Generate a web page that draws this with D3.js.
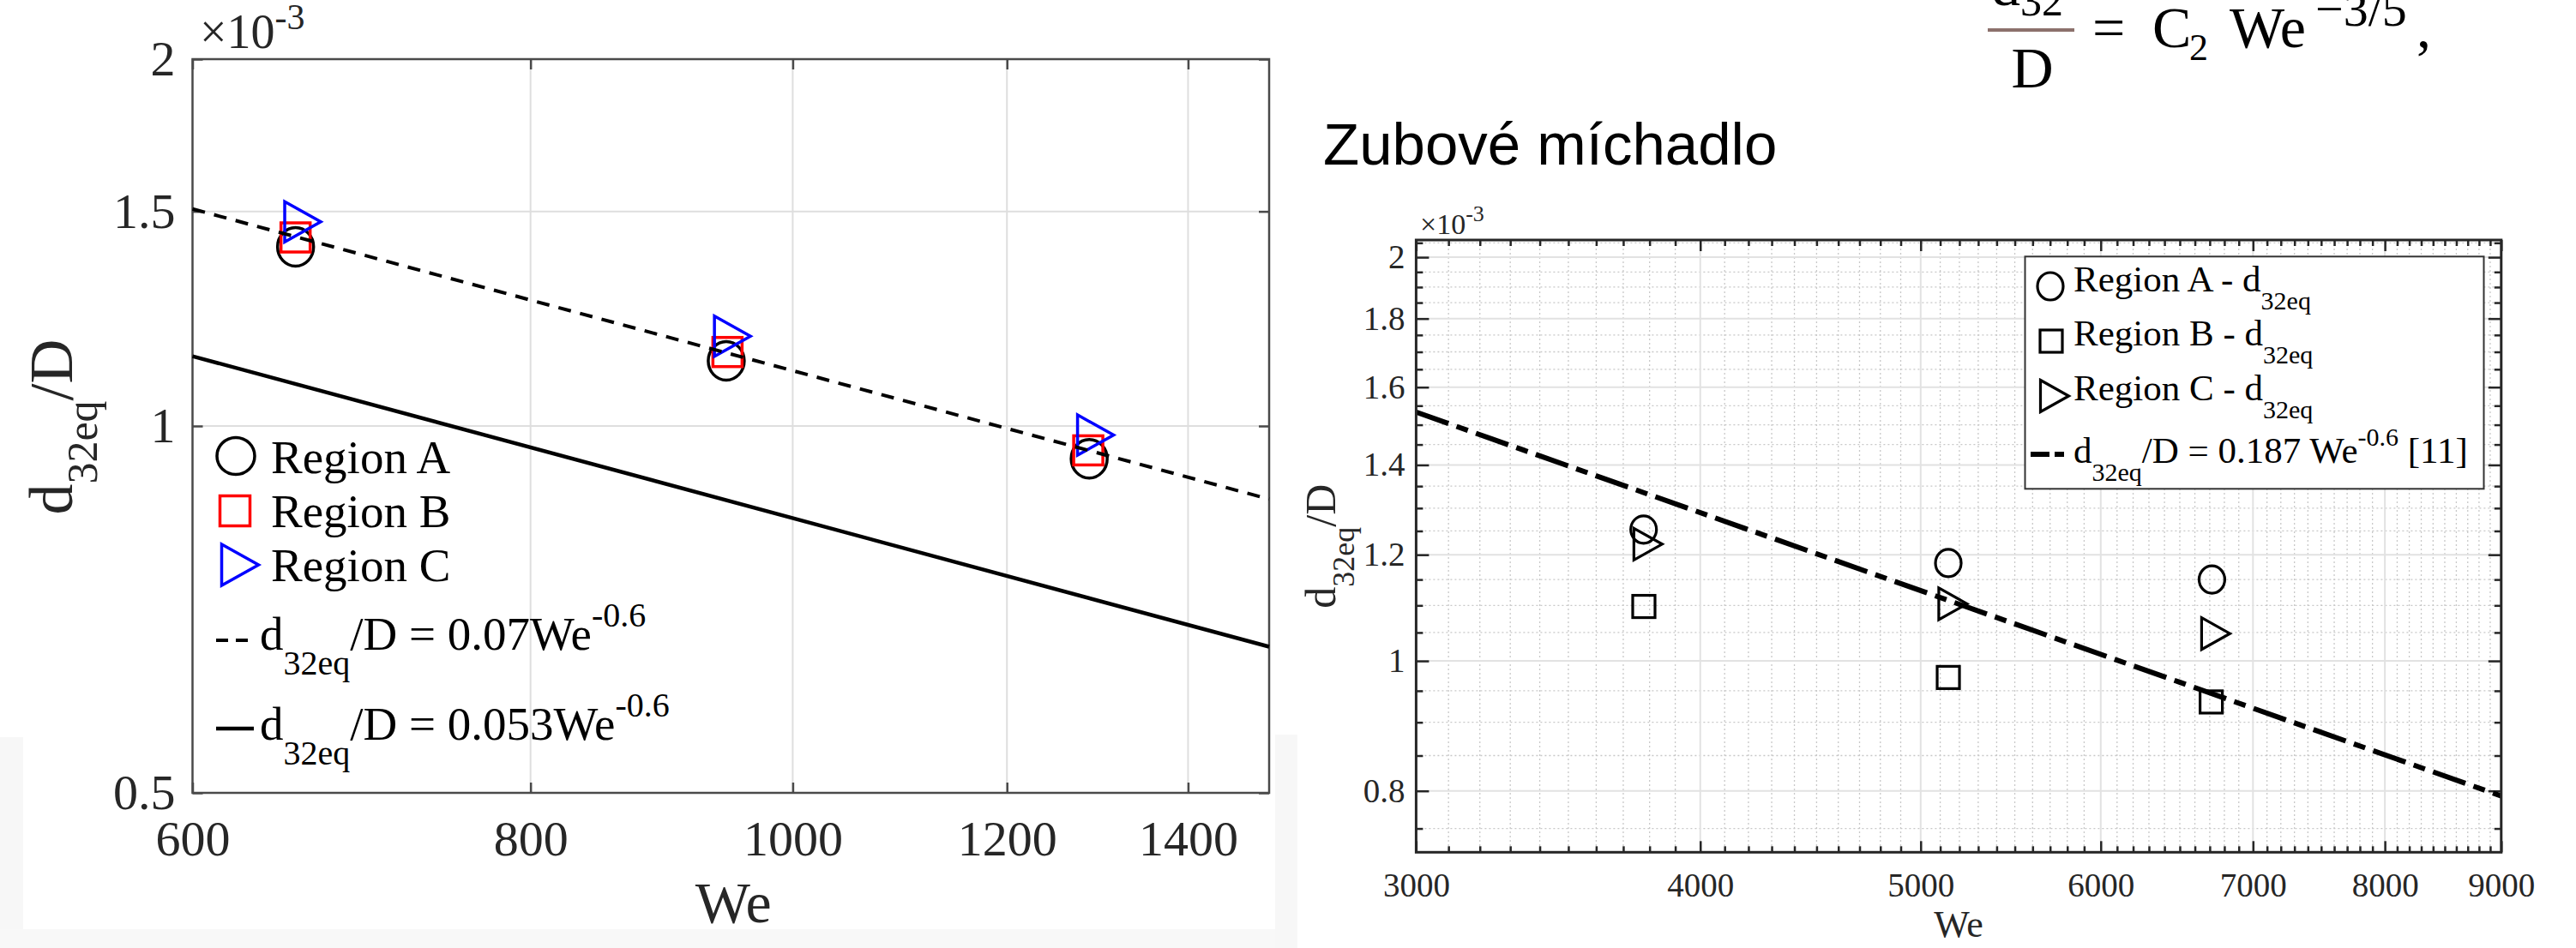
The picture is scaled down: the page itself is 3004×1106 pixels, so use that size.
<!DOCTYPE html>
<html><head><meta charset="utf-8">
<script src="https://cdn.jsdelivr.net/npm/d3@7"></script>
<style>body{margin:0;background:#fff}svg{display:block}</style>
</head><body><svg id="c" width="3004" height="1106"></svg>
<script>
// ---------------- LEFT CHART DATA ----------------
const leftXTicks = [600, 800, 1000, 1200, 1400];
const leftYTicks = [0.5, 1, 1.5, 2];
const leftWeA = [655, 945, 1287];
const leftA   = [1.403, 1.131, 0.940];
const leftWeB = [655, 946, 1286];
const leftB   = [1.428, 1.150, 0.955];
const leftWeC = [659, 950, 1294];
const leftC   = [1.471, 1.185, 0.983];
const leftFitWe     = [600, 1500];
const leftFitDashed = [1.507, 0.871];   // 0.07 We^-0.6  (x10^-3)
const leftFitSolid  = [1.141, 0.659];   // 0.053 We^-0.6 (x10^-3)
const leftLegend = ["Region A", "Region B", "Region C"];

// ---------------- RIGHT CHART DATA ----------------
const rightXTicks = [3000, 4000, 5000, 6000, 7000, 8000, 9000];
const rightYTicks = [0.8, 1, 1.2, 1.4, 1.6, 1.8, 2];
const rightWeA = [3777, 5142, 6715];
const rightA   = [1.253, 1.183, 1.150];
const rightWeB = [3778, 5142, 6710];
const rightB   = [1.098, 0.972, 0.932];
const rightWeC = [3794, 5166, 6741];
const rightC   = [1.222, 1.103, 1.048];
const rightRefWe = [3000, 9000];
const rightRef   = [1.533, 0.793];     // 0.187 We^-0.6 (x10^-3)
const rightLegend = ["Region A - d", "Region B - d", "Region C - d"];

const svg = d3.select("#c");
svg.append("rect").attr("width", 3004).attr("height", 1106).attr("fill", "#fff");
// faint grey edges of the pasted pictures
svg.append("rect").attr("x", 0).attr("y", 860).attr("width", 27).attr("height", 246).attr("fill", "#f7f7f7");
svg.append("rect").attr("x", 0).attr("y", 1084).attr("width", 1513).attr("height", 22).attr("fill", "#f8f8f8");
svg.append("rect").attr("x", 1487).attr("y", 857).attr("width", 26).attr("height", 249).attr("fill", "#f7f7f7");

const SERIF = "'Liberation Serif','Times New Roman',serif";
const SANS = "'Liberation Sans',Arial,sans-serif";
const INK = "#262626";

function triPath(w, h) {
  return `M${-w/2},${-h/2}L${w/2},0L${-w/2},${h/2}Z`;
}
function drawMarker(g, type, x, y, s, color, sw) {
  if (type === "o") {
    g.append("ellipse").attr("cx", x).attr("cy", y).attr("rx", s.rx).attr("ry", s.ry)
      .attr("fill", "none").attr("stroke", color).attr("stroke-width", sw);
  } else if (type === "s") {
    g.append("rect").attr("x", x - s.sq/2).attr("y", y - s.sq/2).attr("width", s.sq).attr("height", s.sq)
      .attr("fill", "none").attr("stroke", color).attr("stroke-width", sw);
  } else {
    g.append("path").attr("d", triPath(s.tw, s.th)).attr("transform", `translate(${x},${y})`)
      .attr("fill", "none").attr("stroke", color).attr("stroke-width", sw).attr("stroke-linejoin", "miter");
  }
}

// ================= LEFT CHART =================
const xL = d3.scaleLog().domain([600, 1500]).range([224.5, 1480]);
const yL = d3.scaleLog().domain([0.5, 2]).range([925, 69]);
const gL = svg.append("g");
const [lx0, lx1] = xL.range(), [ly1, ly0] = yL.range();

gL.selectAll(".lgx").data(leftXTicks.slice(1)).join("line")
  .attr("x1", d => xL(d)).attr("x2", d => xL(d)).attr("y1", ly0).attr("y2", ly1)
  .attr("stroke", "#dedede").attr("stroke-width", 2);
gL.selectAll(".lgy").data(leftYTicks.slice(1, -1)).join("line")
  .attr("y1", d => yL(d)).attr("y2", d => yL(d)).attr("x1", lx0).attr("x2", lx1)
  .attr("stroke", "#dedede").attr("stroke-width", 2);

function styleAxis(g, size) {
  g.select(".domain").remove();
  g.selectAll(".tick line").attr("stroke", "#4a4a4a").attr("stroke-width", 2.5);
  g.selectAll(".tick text").attr("font-family", SERIF).attr("font-size", size).attr("fill", INK);
}
gL.append("g").attr("transform", `translate(0,${ly1})`)
  .call(d3.axisBottom(xL).tickValues(leftXTicks).tickFormat(d => String(d)).tickSizeInner(-12).tickSizeOuter(0).tickPadding(32))
  .call(g => styleAxis(g, 58));
gL.append("g").attr("transform", `translate(0,${ly0})`)
  .call(d3.axisTop(xL).tickValues(leftXTicks).tickFormat("").tickSizeInner(-12).tickSizeOuter(0))
  .call(g => styleAxis(g, 58));
gL.append("g").attr("transform", `translate(${lx0},0)`)
  .call(d3.axisLeft(yL).tickValues(leftYTicks).tickFormat(d => String(d)).tickSizeInner(-12).tickSizeOuter(0).tickPadding(20))
  .call(g => styleAxis(g, 58));
gL.append("g").attr("transform", `translate(${lx1},0)`)
  .call(d3.axisRight(yL).tickValues(leftYTicks).tickFormat("").tickSizeInner(-12).tickSizeOuter(0))
  .call(g => styleAxis(g, 58));
gL.append("rect").attr("x", lx0).attr("y", ly0).attr("width", lx1 - lx0).attr("height", ly1 - ly0)
  .attr("fill", "none").attr("stroke", "#4a4a4a").attr("stroke-width", 2.5);

// markers
const sL = { rx: 21, ry: 22.5, sq: 34, tw: 42, th: 47 };
leftWeA.forEach((w, i) => drawMarker(gL, "o", xL(w), yL(leftA[i]), sL, "#000", 3.5));
leftWeB.forEach((w, i) => drawMarker(gL, "s", xL(w), yL(leftB[i]), sL, "#ff0000", 3.5));
leftWeC.forEach((w, i) => drawMarker(gL, "t", xL(w), yL(leftC[i]), sL, "#0000ff", 3.5));

// fit lines
const lineL = d3.line().x(d => xL(d[0])).y(d => yL(d[1]));
gL.append("path").attr("d", lineL(leftFitWe.map((w, i) => [w, leftFitDashed[i]])))
  .attr("fill", "none").attr("stroke", "#000").attr("stroke-width", 4).attr("stroke-dasharray", "15 11");
gL.append("path").attr("d", lineL(leftFitWe.map((w, i) => [w, leftFitSolid[i]])))
  .attr("fill", "none").attr("stroke", "#000").attr("stroke-width", 4.5);

// x10^-3
const exL = gL.append("text").attr("x", 233).attr("y", 56)
  .attr("font-family", SERIF).attr("font-size", 56).attr("fill", INK);
exL.append("tspan").text("\u00d710");
exL.append("tspan").attr("dy", -22).attr("font-size", 42).text("-3");

// axis labels
gL.append("text").attr("x", (lx0 + lx1) / 2 + 3).attr("y", 1076).attr("text-anchor", "middle")
  .attr("font-family", SERIF).attr("font-size", 68).attr("fill", INK).text("We");
const ylL = gL.append("text").attr("transform", "translate(84,498) rotate(-90)").attr("text-anchor", "middle")
  .attr("font-family", SERIF).attr("font-size", 72).attr("fill", INK);
ylL.append("tspan").text("d");
ylL.append("tspan").attr("dy", 29).attr("font-size", 50).text("32eq");
ylL.append("tspan").attr("dy", -29).text("/D");

// legend (no box)
const legL = gL.append("g");
const sLeg = { rx: 22, ry: 21.5, sq: 35, tw: 43, th: 48 };
const legLRows = [
  { t: "o", c: "#000", mx: 275, my: 532, ty: 552 },
  { t: "s", c: "#ff0000", mx: 274, my: 596, ty: 615 },
  { t: "t", c: "#0000ff", mx: 280, my: 659, ty: 678 }
];
legLRows.forEach((r, i) => {
  drawMarker(legL, r.t, r.mx, r.my, sLeg, r.c, 3.5);
  legL.append("text").attr("x", 316).attr("y", r.ty)
    .attr("font-family", SERIF).attr("font-size", 55).attr("fill", "#000").text(leftLegend[i]);
});
function eqText(g, x, y, coef) {
  const t = g.append("text").attr("x", x).attr("y", y)
    .attr("font-family", SERIF).attr("font-size", 55).attr("fill", "#000");
  t.append("tspan").text("d");
  t.append("tspan").attr("dy", 29).attr("font-size", 40).text("32eq");
  t.append("tspan").attr("dy", -29).text("/D = " + coef + "We");
  t.append("tspan").attr("dy", -27).attr("font-size", 40).text("-0.6");
}
legL.append("line").attr("x1", 252).attr("x2", 289).attr("y1", 747).attr("y2", 747)
  .attr("stroke", "#000").attr("stroke-width", 4).attr("stroke-dasharray", "14 9");
eqText(legL, 303, 758, "0.07");
legL.append("line").attr("x1", 252).attr("x2", 296).attr("y1", 850).attr("y2", 850)
  .attr("stroke", "#000").attr("stroke-width", 4.5);
eqText(legL, 303, 863, "0.053");

// ================= FORMULA + TITLE =================
const gF = svg.append("g").attr("font-family", SERIF).attr("fill", "#000");
const num = gF.append("text").attr("x", 2322).attr("y", 6).attr("font-size", 68);
num.append("tspan").text("d");
num.append("tspan").attr("dy", 12).attr("font-size", 50).text("32");
gF.append("rect").attr("x", 2318).attr("y", 33).attr("width", 101).attr("height", 4).attr("fill", "#8c716c");
gF.append("text").attr("x", 2370).attr("y", 102).attr("text-anchor", "middle").attr("font-size", 68).text("D");
gF.append("text").attr("x", 2440).attr("y", 55).attr("font-size", 68).text("=");
gF.append("text").attr("x", 2510).attr("y", 55).attr("font-size", 68).text("C");
gF.append("text").attr("x", 2553).attr("y", 70).attr("font-size", 44).text("2");
gF.append("text").attr("x", 2600).attr("y", 55).attr("font-size", 68).text("We");
gF.append("text").attr("x", 2700).attr("y", 30).attr("font-size", 58).text("\u22123/5");
gF.append("text").attr("x", 2818).attr("y", 55).attr("font-size", 68).text(",");

svg.append("text").attr("x", 1543).attr("y", 192).attr("font-family", SANS).attr("font-size", 69)
  .attr("fill", "#000").text("Zubové míchadlo");

// ================= RIGHT CHART =================
const xR = d3.scaleLog().domain([3000, 9000]).range([1651.4, 2916.8]);
const yR = d3.scaleLog().domain([0.72, 2.06]).range([994.3, 280]);
const [rx0, rx1] = xR.range(), [ry1, ry0] = yR.range();
const gR = svg.append("g");
const minorX = d3.range(3100, 9000, 100).filter(v => v % 1000 !== 0);
const minorY = d3.range(15, 42).map(i => +(i * 0.05).toFixed(2))
  .filter(v => v > 0.72 && v < 2.06 && Math.abs(v * 5 - Math.round(v * 5)) > 1e-6);

// minor grid (dotted)
gR.selectAll(".mgx").data(minorX).join("line")
  .attr("x1", d => xR(d)).attr("x2", d => xR(d)).attr("y1", ry0).attr("y2", ry1)
  .attr("stroke", "#c8c8c8").attr("stroke-width", 1.3).attr("stroke-dasharray", "2 3");
gR.selectAll(".mgy").data(minorY).join("line")
  .attr("y1", d => yR(d)).attr("y2", d => yR(d)).attr("x1", rx0).attr("x2", rx1)
  .attr("stroke", "#c8c8c8").attr("stroke-width", 1.3).attr("stroke-dasharray", "2 3");
// major grid
gR.selectAll(".Mgx").data(rightXTicks).join("line")
  .attr("x1", d => xR(d)).attr("x2", d => xR(d)).attr("y1", ry0).attr("y2", ry1)
  .attr("stroke", "#e2e2e2").attr("stroke-width", 2);
gR.selectAll(".Mgy").data(rightYTicks).join("line")
  .attr("y1", d => yR(d)).attr("y2", d => yR(d)).attr("x1", rx0).attr("x2", rx1)
  .attr("stroke", "#e2e2e2").attr("stroke-width", 2);

function styleR(g) {
  g.select(".domain").remove();
  g.selectAll(".tick line").attr("stroke", INK).attr("stroke-width", 2.5);
  g.selectAll(".tick text").attr("font-family", SERIF).attr("font-size", 39).attr("fill", INK);
}
// major ticks with labels
gR.append("g").attr("transform", `translate(0,${ry1})`)
  .call(d3.axisBottom(xR).tickValues(rightXTicks).tickFormat(d => String(d)).tickSizeInner(-13).tickSizeOuter(0).tickPadding(24)).call(styleR);
gR.append("g").attr("transform", `translate(0,${ry0})`)
  .call(d3.axisTop(xR).tickValues(rightXTicks).tickFormat("").tickSizeInner(-13).tickSizeOuter(0)).call(styleR);
gR.append("g").attr("transform", `translate(${rx0},0)`)
  .call(d3.axisLeft(yR).tickValues(rightYTicks).tickFormat(d => String(d)).tickSizeInner(-15).tickSizeOuter(0).tickPadding(13)).call(styleR);
gR.append("g").attr("transform", `translate(${rx1},0)`)
  .call(d3.axisRight(yR).tickValues(rightYTicks).tickFormat("").tickSizeInner(-15).tickSizeOuter(0)).call(styleR);
// minor ticks
gR.append("g").attr("transform", `translate(0,${ry1})`)
  .call(d3.axisBottom(xR).tickValues(minorX).tickFormat("").tickSizeInner(-7).tickSizeOuter(0)).call(styleR);
gR.append("g").attr("transform", `translate(0,${ry0})`)
  .call(d3.axisTop(xR).tickValues(minorX).tickFormat("").tickSizeInner(-7).tickSizeOuter(0)).call(styleR);
gR.append("g").attr("transform", `translate(${rx0},0)`)
  .call(d3.axisLeft(yR).tickValues(minorY).tickFormat("").tickSizeInner(-8).tickSizeOuter(0)).call(styleR);
gR.append("g").attr("transform", `translate(${rx1},0)`)
  .call(d3.axisRight(yR).tickValues(minorY).tickFormat("").tickSizeInner(-8).tickSizeOuter(0)).call(styleR);

// reference line
const lineR = d3.line().x(d => xR(d[0])).y(d => yR(d[1]));
gR.append("path").attr("d", lineR(rightRefWe.map((w, i) => [w, rightRef[i]])))
  .attr("fill", "none").attr("stroke", "#000").attr("stroke-width", 6).attr("stroke-dasharray", "40 10 14 10");

// markers
const sR = { rx: 15, ry: 16, sq: 26, tw: 33, th: 37 };
rightWeA.forEach((w, i) => drawMarker(gR, "o", xR(w), yR(rightA[i]), sR, "#000", 3.2));
rightWeB.forEach((w, i) => drawMarker(gR, "s", xR(w), yR(rightB[i]), sR, "#000", 3.2));
rightWeC.forEach((w, i) => drawMarker(gR, "t", xR(w), yR(rightC[i]), sR, "#000", 3.2));

// box
gR.append("rect").attr("x", rx0).attr("y", ry0).attr("width", rx1 - rx0).attr("height", ry1 - ry0)
  .attr("fill", "none").attr("stroke", INK).attr("stroke-width", 3);

// x10^-3
const exR = gR.append("text").attr("x", 1656).attr("y", 273).attr("font-family", SERIF).attr("font-size", 34).attr("fill", INK);
exR.append("tspan").text("\u00d710");
exR.append("tspan").attr("dy", -15).attr("font-size", 26).text("-3");

// axis labels
gR.append("text").attr("x", (rx0 + rx1) / 2).attr("y", 1093).attr("text-anchor", "middle")
  .attr("font-family", SERIF).attr("font-size", 44).attr("fill", INK).text("We");
const ylR = gR.append("text").attr("transform", `translate(1557,${(ry0 + ry1) / 2}) rotate(-90)`).attr("text-anchor", "middle")
  .attr("font-family", SERIF).attr("font-size", 50).attr("fill", INK);
ylR.append("tspan").text("d");
ylR.append("tspan").attr("dy", 22).attr("font-size", 36).text("32eq");
ylR.append("tspan").attr("dy", -22).text("/D");

// legend
const legR = gR.append("g");
legR.append("rect").attr("x", 2361.5).attr("y", 299.3).attr("width", 535).attr("height", 271)
  .attr("fill", "#fff").attr("stroke", "#333").attr("stroke-width", 2);
const legRRows = [
  { t: "o", mx: 2391, my: 334, ty: 340 },
  { t: "s", mx: 2392, my: 398, ty: 403 },
  { t: "t", mx: 2396, my: 462, ty: 467 }
];
legRRows.forEach((r, i) => {
  drawMarker(legR, r.t, r.mx, r.my, sR, "#000", 3.2);
  const t = legR.append("text").attr("x", 2418).attr("y", r.ty).attr("font-family", SERIF).attr("font-size", 43).attr("fill", "#000");
  t.append("tspan").text(rightLegend[i]);
  t.append("tspan").attr("dy", 21).attr("font-size", 30).text("32eq");
});
legR.append("line").attr("x1", 2368).attr("x2", 2412).attr("y1", 530).attr("y2", 530)
  .attr("stroke", "#000").attr("stroke-width", 6).attr("stroke-dasharray", "22 6 11 20");
const tq = legR.append("text").attr("x", 2418).attr("y", 540).attr("font-family", SERIF).attr("font-size", 43).attr("fill", "#000");
tq.append("tspan").text("d");
tq.append("tspan").attr("dy", 21).attr("font-size", 30).text("32eq");
tq.append("tspan").attr("dy", -21).text("/D = 0.187 We");
tq.append("tspan").attr("dy", -20).attr("font-size", 30).text("-0.6");
tq.append("tspan").attr("dy", 20).text(" [11]");
</script>
</body></html>
